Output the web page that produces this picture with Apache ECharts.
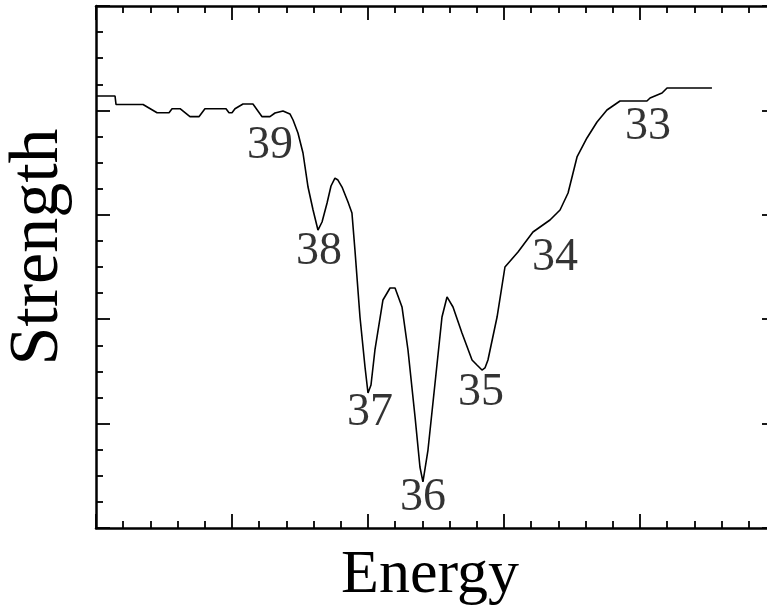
<!DOCTYPE html>
<html>
  <head>
    <meta charset="utf-8" />
    <title>Strength vs Energy</title>
    <script src="https://cdn.jsdelivr.net/npm/echarts@6.0.0/dist/echarts.min.js"></script>
    <style>
      body { margin: 0; background: #fff; }
    </style>
  </head>
  <body>
    <div id="main" style="width: 767px;height:610px;"></div>
    <script>
        // curve (energy, strength in axis units)
        var energy = [0, 0.14, 0.147, 0.346, 0.449, 0.537, 0.559, 0.618, 0.691, 0.757,
          0.801, 0.956, 0.978, 1.0, 1.022, 1.081, 1.154, 1.221, 1.279, 1.316,
          1.375, 1.426, 1.449, 1.485, 1.522, 1.559, 1.596, 1.632, 1.662, 1.699,
          1.728, 1.757, 1.779, 1.809, 1.853, 1.882, 1.904, 1.941, 1.978, 2.0,
          2.022, 2.051, 2.11, 2.162, 2.199, 2.25, 2.294, 2.346, 2.382, 2.404,
          2.441, 2.493, 2.544, 2.581, 2.625, 2.691, 2.765, 2.801, 2.838, 2.86,
          2.882, 2.949, 3.007, 3.103, 3.213, 3.338, 3.412, 3.471, 3.537, 3.61,
          3.684, 3.757, 3.853, 4.051, 4.074, 4.162, 4.199, 4.529];
        var strength = [4.138, 4.138, 4.057, 4.057, 3.978, 3.978, 4.016, 4.016, 3.94, 3.94,
          4.016, 4.016, 3.978, 3.978, 4.016, 4.061, 4.061, 3.94, 3.94, 3.975,
          3.995, 3.966, 3.908, 3.784, 3.592, 3.266, 3.046, 2.854, 2.931, 3.113,
          3.276, 3.352, 3.333, 3.266, 3.123, 3.017, 2.663, 2.021, 1.542, 1.293,
          1.37, 1.705, 2.184, 2.299, 2.299, 2.117, 1.705, 1.063, 0.584, 0.441,
          0.747, 1.389, 2.021, 2.213, 2.117, 1.868, 1.609, 1.561, 1.513, 1.533,
          1.609, 2.021, 2.5, 2.644, 2.835, 2.95, 3.046, 3.209, 3.554, 3.736,
          3.889, 4.004, 4.09, 4.09, 4.119, 4.167, 4.215, 4.215];

        // peak numbers and where their text sits
        var peakNames = ['39', '38', '37', '36', '35', '34', '33'];
        var peakX = [1.279, 1.64, 2.015, 2.404, 2.831, 3.375, 4.059];
        var peakY = [3.659, 2.644, 1.10, 0.287, 1.293, 2.586, 3.841];

        var chart = echarts.init(document.getElementById('main'));

        var serif = 'Liberation Serif';
        function frameAxis(pos, isX) {
          return {
            type: 'value',
            position: pos,
            min: 0,
            max: 5,
            interval: 1,
            axisLine: { show: true, onZero: false, lineStyle: { color: '#000', width: 2.5 } },
            axisTick: { show: true, inside: true, length: 14, lineStyle: { color: '#000', width: 1.8 } },
            minorTick: { show: true, splitNumber: isX ? 5 : 4, length: 7, lineStyle: { color: '#000', width: 1.8 } },
            axisLabel: { show: false },
            splitLine: { show: false }
          };
        }

        var xBottom = frameAxis('bottom', true);
        xBottom.name = 'Energy';
        xBottom.nameLocation = 'middle';
        xBottom.nameGap = 17;
        xBottom.nameTextStyle = { fontFamily: serif, fontSize: 62, color: '#000', verticalAlign: 'top', padding: [0, 12, 0, 0] };
        var xTop = frameAxis('top', true);

        var yLeft = frameAxis('left', false);
        yLeft.name = 'Strength';
        yLeft.nameLocation = 'middle';
        yLeft.nameGap = 22;
        yLeft.nameTextStyle = { fontFamily: serif, fontSize: 70, color: '#000', padding: [0, 0, 0, 40] };
        var yRight = frameAxis('right', false);

        var lineData = energy.map(function (e, i) { return [e, strength[i]]; });
        var labelData = peakNames.map(function (n, i) { return { name: n, value: [peakX[i], peakY[i]] }; });

        var option = {
          animation: false,
          backgroundColor: '#fff',
          grid: { left: 96, top: 6, width: 680, height: 522, outerBoundsMode: 'none', containLabel: false },
          xAxis: [xBottom, xTop],
          yAxis: [yLeft, yRight],
          series: [
            {
              type: 'line',
              data: lineData,
              showSymbol: false,
              symbol: 'none',
              lineStyle: { color: '#000', width: 1.6 }
            },
            {
              type: 'scatter',
              data: labelData,
              symbolSize: 1,
              itemStyle: { color: 'rgba(0,0,0,0)' },
              label: {
                show: true,
                position: 'inside',
                formatter: '{b}',
                fontFamily: serif,
                fontSize: 46,
                color: '#000',
                textBorderWidth: 0
              }
            }
          ]
        };

        chart.setOption(option);
    </script>
  </body>
</html>
